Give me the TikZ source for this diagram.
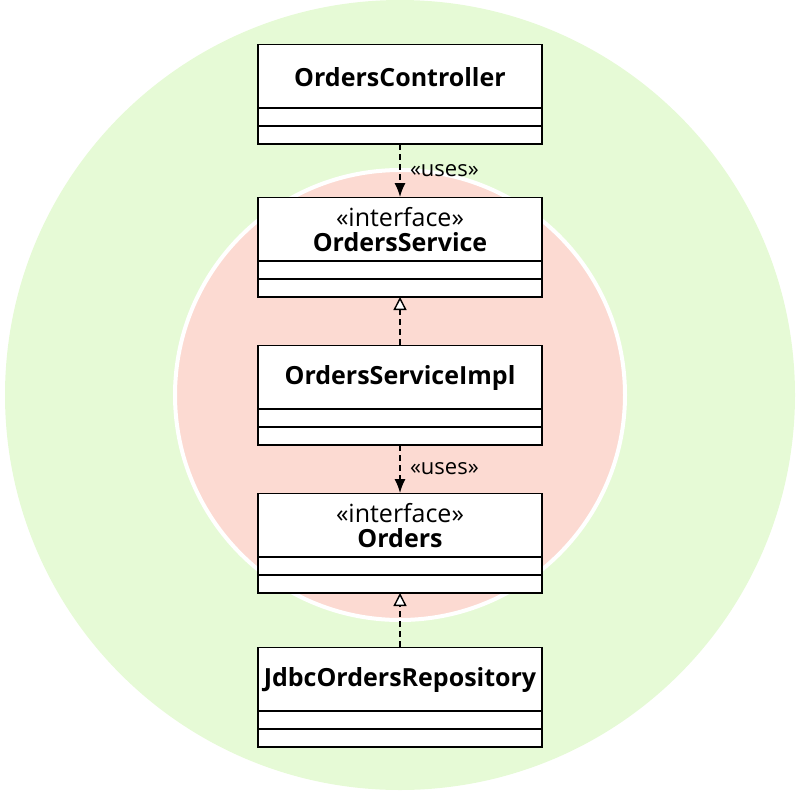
\documentclass[tikz,border=0pt]{standalone}
\usepackage{fontspec}
\setmainfont{Open Sans}
\usetikzlibrary{arrows.meta}
\definecolor{outerg}{HTML}{E6FAD6}
\definecolor{innerr}{HTML}{FCDAD2}
\begin{document}
\begin{tikzpicture}[x=1pt,y=-1pt,
 box/.style={draw=black,line width=1.4pt,fill=white,minimum width=284pt,minimum height=64pt,inner sep=0pt,align=center,font=\fontsize{25}{29}\selectfont},
 uses/.style={dash pattern=on 6pt off 4pt,line width=1.4pt,-{Latex[length=14pt,width=11pt]}},
 real/.style={dash pattern=on 6pt off 4pt,line width=1.4pt,-{Triangle[open,length=13pt,width=13pt,fill=white]}},
 lbl/.style={font=\fontsize{22}{25}\selectfont,anchor=west}]
\useasboundingbox (0,0) rectangle (800,790);
\fill[outerg] (400,395) circle (395);
\draw[fill=innerr,draw=white,line width=4pt] (400,395) circle (225);
\foreach \n/\t/\y in {c/{\textbf{OrdersController}}/44, s/{«interface»\\[-4pt]\textbf{OrdersService}}/197, i/{\textbf{OrdersServiceImpl}}/345, o/{«interface»\\[-4pt]\textbf{Orders}}/493, j/{\textbf{JdbcOrdersRepository}}/647}{
 \node[box,anchor=north] (\n) at (400,\y) {\t};
 \draw[line width=1.4pt,fill=white] (258,\y+64) rectangle (542,\y+82) rectangle (258,\y+100);
 \coordinate (\n b) at (400,\y+100);
}
\draw[uses] (cb) -- (s.north) node[lbl,pos=0.5,xshift=6pt] {«uses»};
\draw[real] (i.north) -- (sb);
\draw[uses] (ib) -- (o.north) node[lbl,pos=0.5,xshift=6pt] {«uses»};
\draw[real] (j.north) -- (ob);
\end{tikzpicture}
\end{document}
